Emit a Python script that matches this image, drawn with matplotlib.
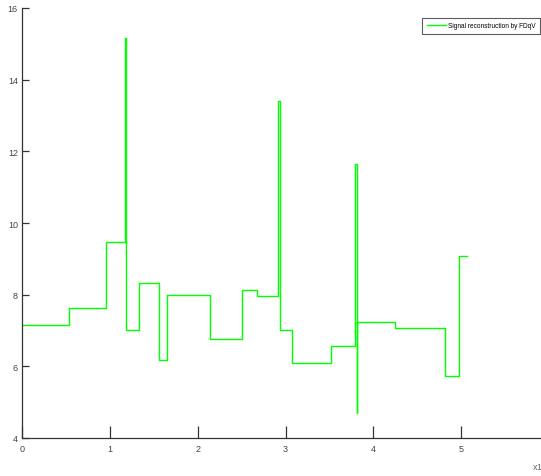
import matplotlib
matplotlib.use('Agg')
import matplotlib.pyplot as plt

# step edges (x, in units of 1e4) and the level held after each edge
edges = [0, 0.539, 0.957, 1.170, 1.188, 1.336, 1.564, 1.655, 2.138, 2.509,
         2.680, 2.919, 2.938, 3.079, 3.516, 3.793, 3.812, 3.819, 4.245,
         4.818, 4.977, 5.065]
levels = [7.15, 7.63, 9.48, 15.15, 7.0, 8.32, 6.18, 7.98, 6.75, 8.12,
          7.95, 13.4, 7.0, 6.08, 6.57, 11.65, 4.7, 7.24, 7.08, 5.74, 9.07]

x_ticks = [0, 1, 2, 3, 4, 5]
y_ticks = [4, 6, 8, 10, 12, 14, 16]

plt.rcParams['font.family'] = ['Liberation Sans', 'DejaVu Sans']

fig = plt.figure(figsize=(5.41, 4.77), dpi=100)
ax = fig.add_axes([22 / 541, 38 / 477, 527 / 541, 430 / 477])

xs = edges
ys = levels + [levels[-1]]
ax.step(xs, ys, where='post', color='#00ff00', lw=1.0,
        label='Signal reconstruction by FDqV')

ax.set_xlim(0, 6)
ax.set_ylim(4, 16)
ax.set_xticks(x_ticks)
ax.set_yticks(y_ticks)
ax.spines['top'].set_visible(False)
ax.spines['right'].set_visible(False)
for s in ['left', 'bottom']:
    ax.spines[s].set_color('#333333')
    ax.spines[s].set_linewidth(0.9)
ax.tick_params(axis='both', direction='in', labelsize=6.5, colors='#333333',
               labelcolor='#444444', width=0.9)
ax.tick_params(axis='x', length=9, pad=4)
ax.tick_params(axis='y', length=5, pad=3)

fig.text(532 / 541, 1 - 467 / 477, 'x10$^4$', fontsize=6.5, color='#666666',
         va='center', ha='left')

leg = ax.legend(loc='upper right', bbox_to_anchor=(0.999, 0.961),
                bbox_transform=fig.transFigure, borderaxespad=0,
                fontsize=4.7, frameon=True, fancybox=False, handlelength=3.0,
                handletextpad=0.3, borderpad=0.7)
leg.get_frame().set_edgecolor('#333333')
leg.get_frame().set_linewidth(0.8)

fig.savefig('out.png', dpi=100)
